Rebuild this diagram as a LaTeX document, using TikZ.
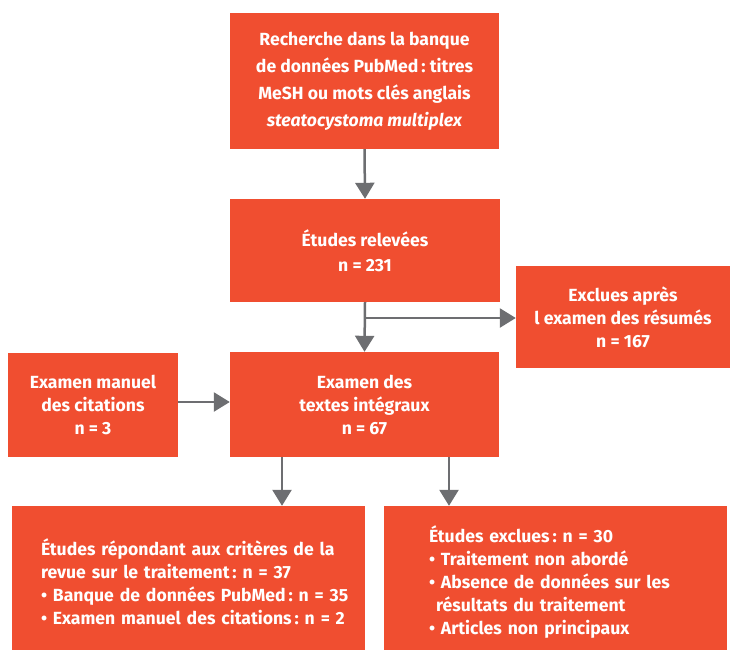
\documentclass[tikz,border=0pt]{standalone}
\usepackage{fontspec}
\setmainfont{Fira Sans}
\usetikzlibrary{arrows.meta}
\definecolor{boxred}{HTML}{F04E30}
\definecolor{arrgray}{HTML}{6D6E71}
\frenchspacing
\newcommand{\ind}{\hspace*{22.5pt}}
\tikzset{
  box/.style={fill=boxred, draw=none, text=white, font=\bfseries\fontsize{17.6}{23}\selectfont, align=center, inner sep=0pt},
  arr/.style={draw=arrgray, line width=2.5pt, -{Triangle[length=16pt,width=19pt]}}
}
\begin{document}
\begin{tikzpicture}[x=1pt,y=-1pt]
\useasboundingbox (0,0) rectangle (730,653);
\node[box, minimum width=269pt, minimum height=136pt, font=\bfseries\fontsize{17.6}{27}\selectfont] (top) at (364.5,81)
  {Recherche dans la banque\\de données PubMed\,: titres\\MeSH ou mots clés anglais\\\textit{steatocystoma multiplex}};
\node[box, minimum width=270pt, minimum height=103pt, font=\bfseries\fontsize{17.6}{25}\selectfont] (b2) at (365,250.5)
  {Études relevées\\n = 231};
\node[box, minimum width=214pt, minimum height=102pt] (ex) at (623,317)
  {Exclues après\\l examen des résumés\\n = 167};
\node[box, minimum width=269pt, minimum height=105pt] (b3) at (364.5,404.5)
  {Examen des\\textes intégraux\\n = 67};
\node[box, minimum width=170pt, minimum height=104pt] (lm) at (93,405)
  {Examen manuel\\des citations\\n = 3};
\node[box, minimum width=353pt, minimum height=144pt, align=left, text width=340pt] (bl) at (188.5,578)
  {\ind\rule{0pt}{25pt}Études répondant aux critères de la\\\ind revue sur le traitement\,: n = 37\\\ind• Banque de données PubMed\,: n = 35\\\ind• Examen manuel des citations\,: n = 2};
\node[box, minimum width=343pt, minimum height=144pt, align=left, text width=253pt] (br) at (555.5,578)
  {\rule{0pt}{25pt}Études exclues\,: n = 30\\• Traitement non abordé\\• Absence de données sur les\\\hspace*{7pt}résultats du traitement\\• Articles non principaux};
\draw[arr] (top.south) -- (b2.north);
\draw[arr] (b2.south) -- (b3.north);
\coordinate (brc) at (365,318);
\draw[arr] (brc) -- (brc -| ex.west);
\draw[arr] (lm.east |- 0,402) -- (b3.west |- 0,402);
\coordinate (d1) at (282,457);
\coordinate (d2) at (449,457);
\draw[arr] (d1) -- (d1 |- bl.north);
\draw[arr] (d2) -- (d2 |- br.north);
\end{tikzpicture}
\end{document}
